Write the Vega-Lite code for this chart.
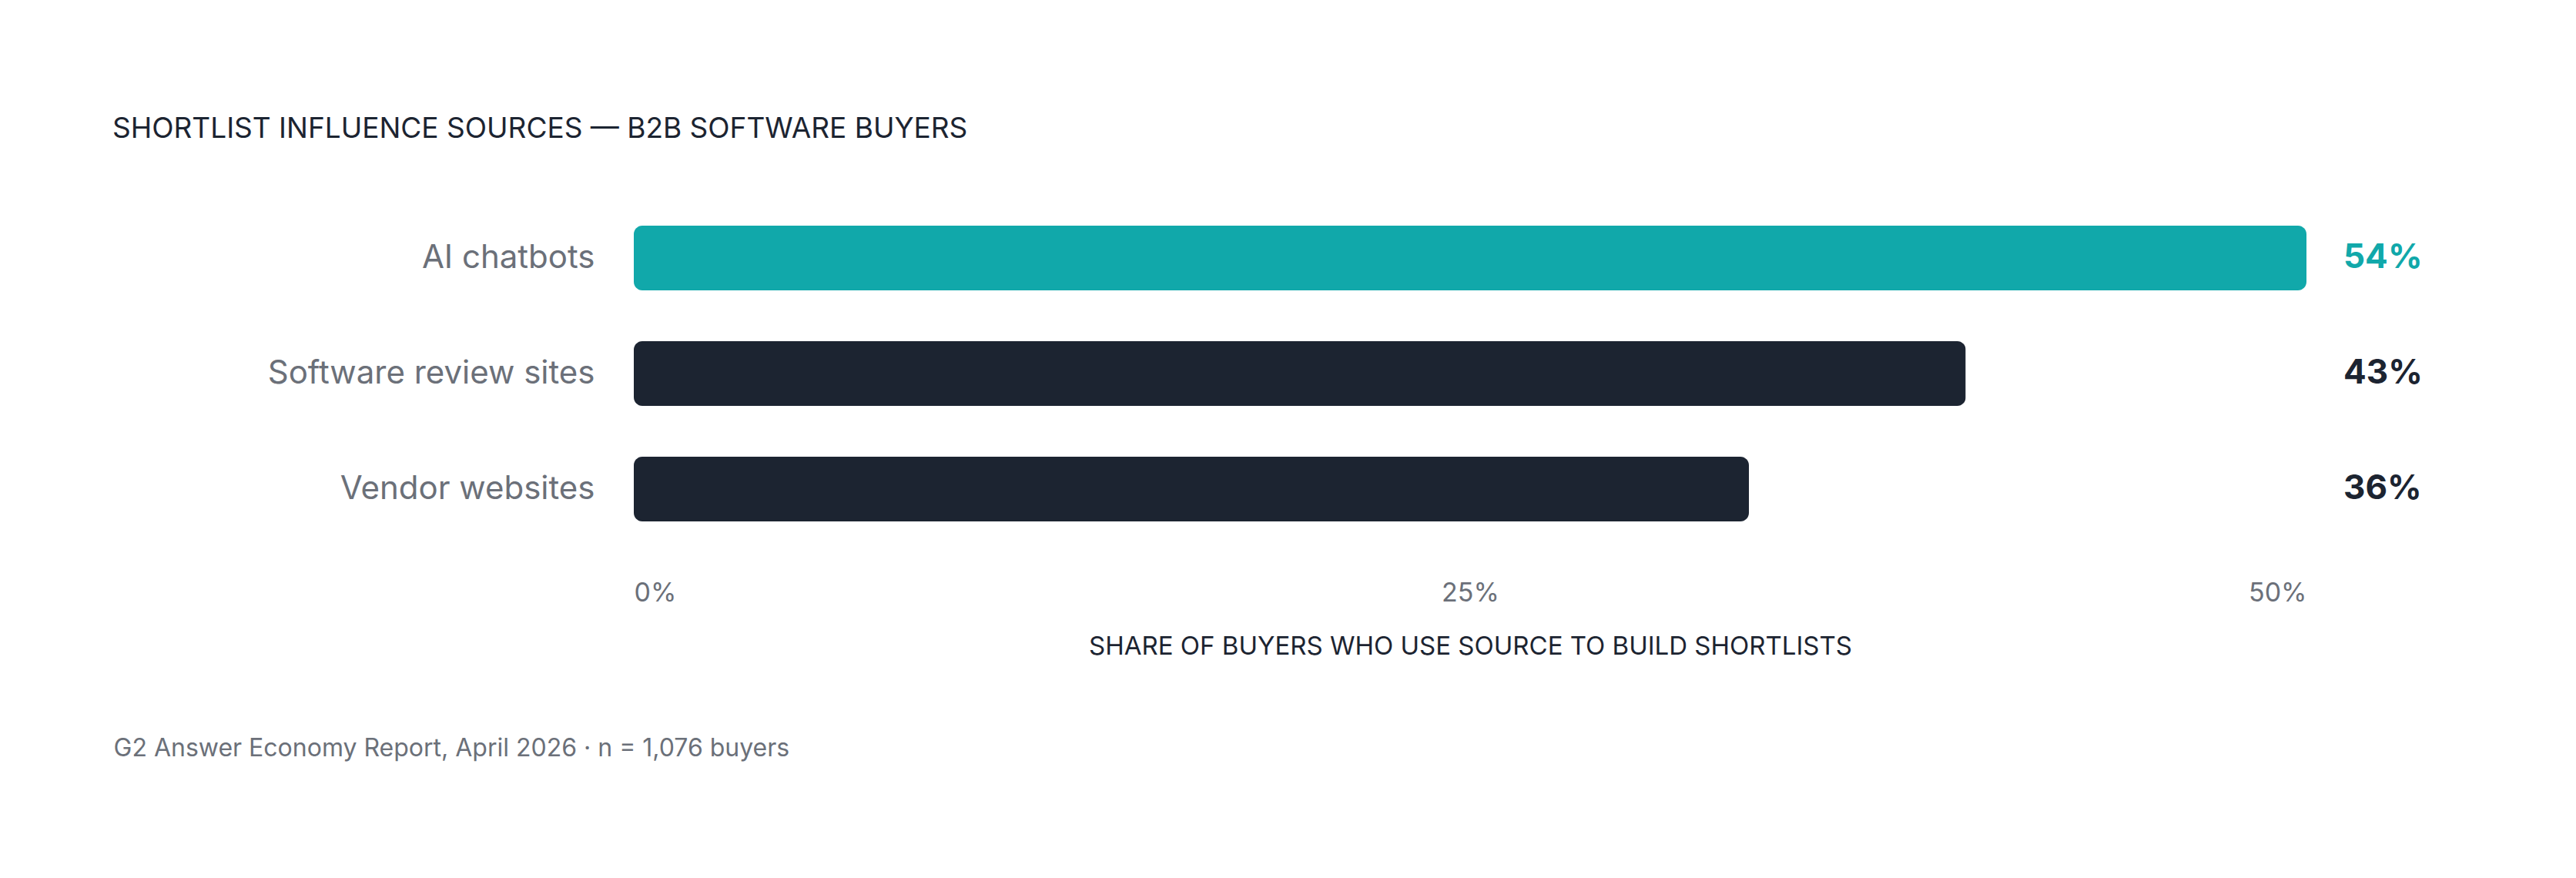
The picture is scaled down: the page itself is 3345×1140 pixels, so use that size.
{
  "$schema": "https://vega.github.io/schema/vega-lite/v6.json",
  "background": "#ffffff",
  "autosize": {"type": "none"},
  "padding": {"left": 823, "top": 260, "right": 350, "bottom": 430},
  "width": 2172,
  "height": 450,
  "title": {
    "text": "SHORTLIST INFLUENCE SOURCES — B2B SOFTWARE BUYERS",
    "anchor": "start",
    "frame": "group",
    "orient": "top",
    "dx": -677,
    "offset": 73,
    "font": "Inter",
    "fontSize": 37,
    "fontWeight": "normal",
    "color": "#1c2431"
  },
  "config": {
    "view": {"stroke": null},
    "font": "Inter"
  },
  "data": {
    "values": [
      {"source": "AI chatbots", "share": 0.54},
      {"source": "Software review sites", "share": 0.43},
      {"source": "Vendor websites", "share": 0.36}
    ]
  },
  "encoding": {
    "y": {
      "field": "source",
      "type": "nominal",
      "sort": null,
      "scale": {"paddingInner": 0.44, "paddingOuter": 0.22},
      "axis": {
        "title": "G2 Answer Economy Report, April 2026 · n = 1,076 buyers",
        "titleAngle": 0,
        "titleX": -676,
        "titleY": 721,
        "titleAlign": "left",
        "titleBaseline": "alphabetic",
        "titleFont": "Inter",
        "titleFontSize": 32,
        "titleFontWeight": "normal",
        "titleColor": "#6b7079",
        "domain": false,
        "ticks": false,
        "tickSize": 0,
        "labelPadding": 51,
        "labelLimit": 1000,
        "labelFont": "Inter",
        "labelFontSize": 42,
        "labelColor": "#6b7079"
      }
    }
  },
  "layer": [
    {
      "mark": {"type": "bar", "cornerRadius": 11},
      "encoding": {
        "x": {
          "field": "share",
          "type": "quantitative",
          "scale": {"domain": [0, 0.54], "nice": false},
          "axis": {
            "values": [0, 0.27, 0.54],
            "labelExpr": "datum.value == 0 ? '0%' : datum.value < 0.5 ? '25%' : '50%'",
            "labelFlush": true,
            "grid": false,
            "domain": false,
            "ticks": false,
            "tickSize": 0,
            "labelPadding": 43,
            "labelFont": "Inter",
            "labelFontSize": 34,
            "labelColor": "#6b7079",
            "title": "SHARE OF BUYERS WHO USE SOURCE TO BUILD SHORTLISTS",
            "titleFont": "Inter",
            "titleFontSize": 33,
            "titleFontWeight": "normal",
            "titleColor": "#1c2431",
            "titlePadding": 36
          }
        },
        "color": {
          "condition": {"test": "datum.source === 'AI chatbots'", "value": "#11a8aa"},
          "value": "#1c2431"
        }
      }
    },
    {
      "mark": {"type": "text", "align": "left", "baseline": "middle", "dx": 48, "font": "Inter", "fontSize": 44, "fontWeight": "bold"},
      "encoding": {
        "x": {"datum": 0.54, "type": "quantitative"},
        "text": {"field": "share", "type": "quantitative", "format": ".0%"},
        "color": {
          "condition": {"test": "datum.source === 'AI chatbots'", "value": "#11a8aa"},
          "value": "#1c2431"
        }
      }
    }
  ]
}
